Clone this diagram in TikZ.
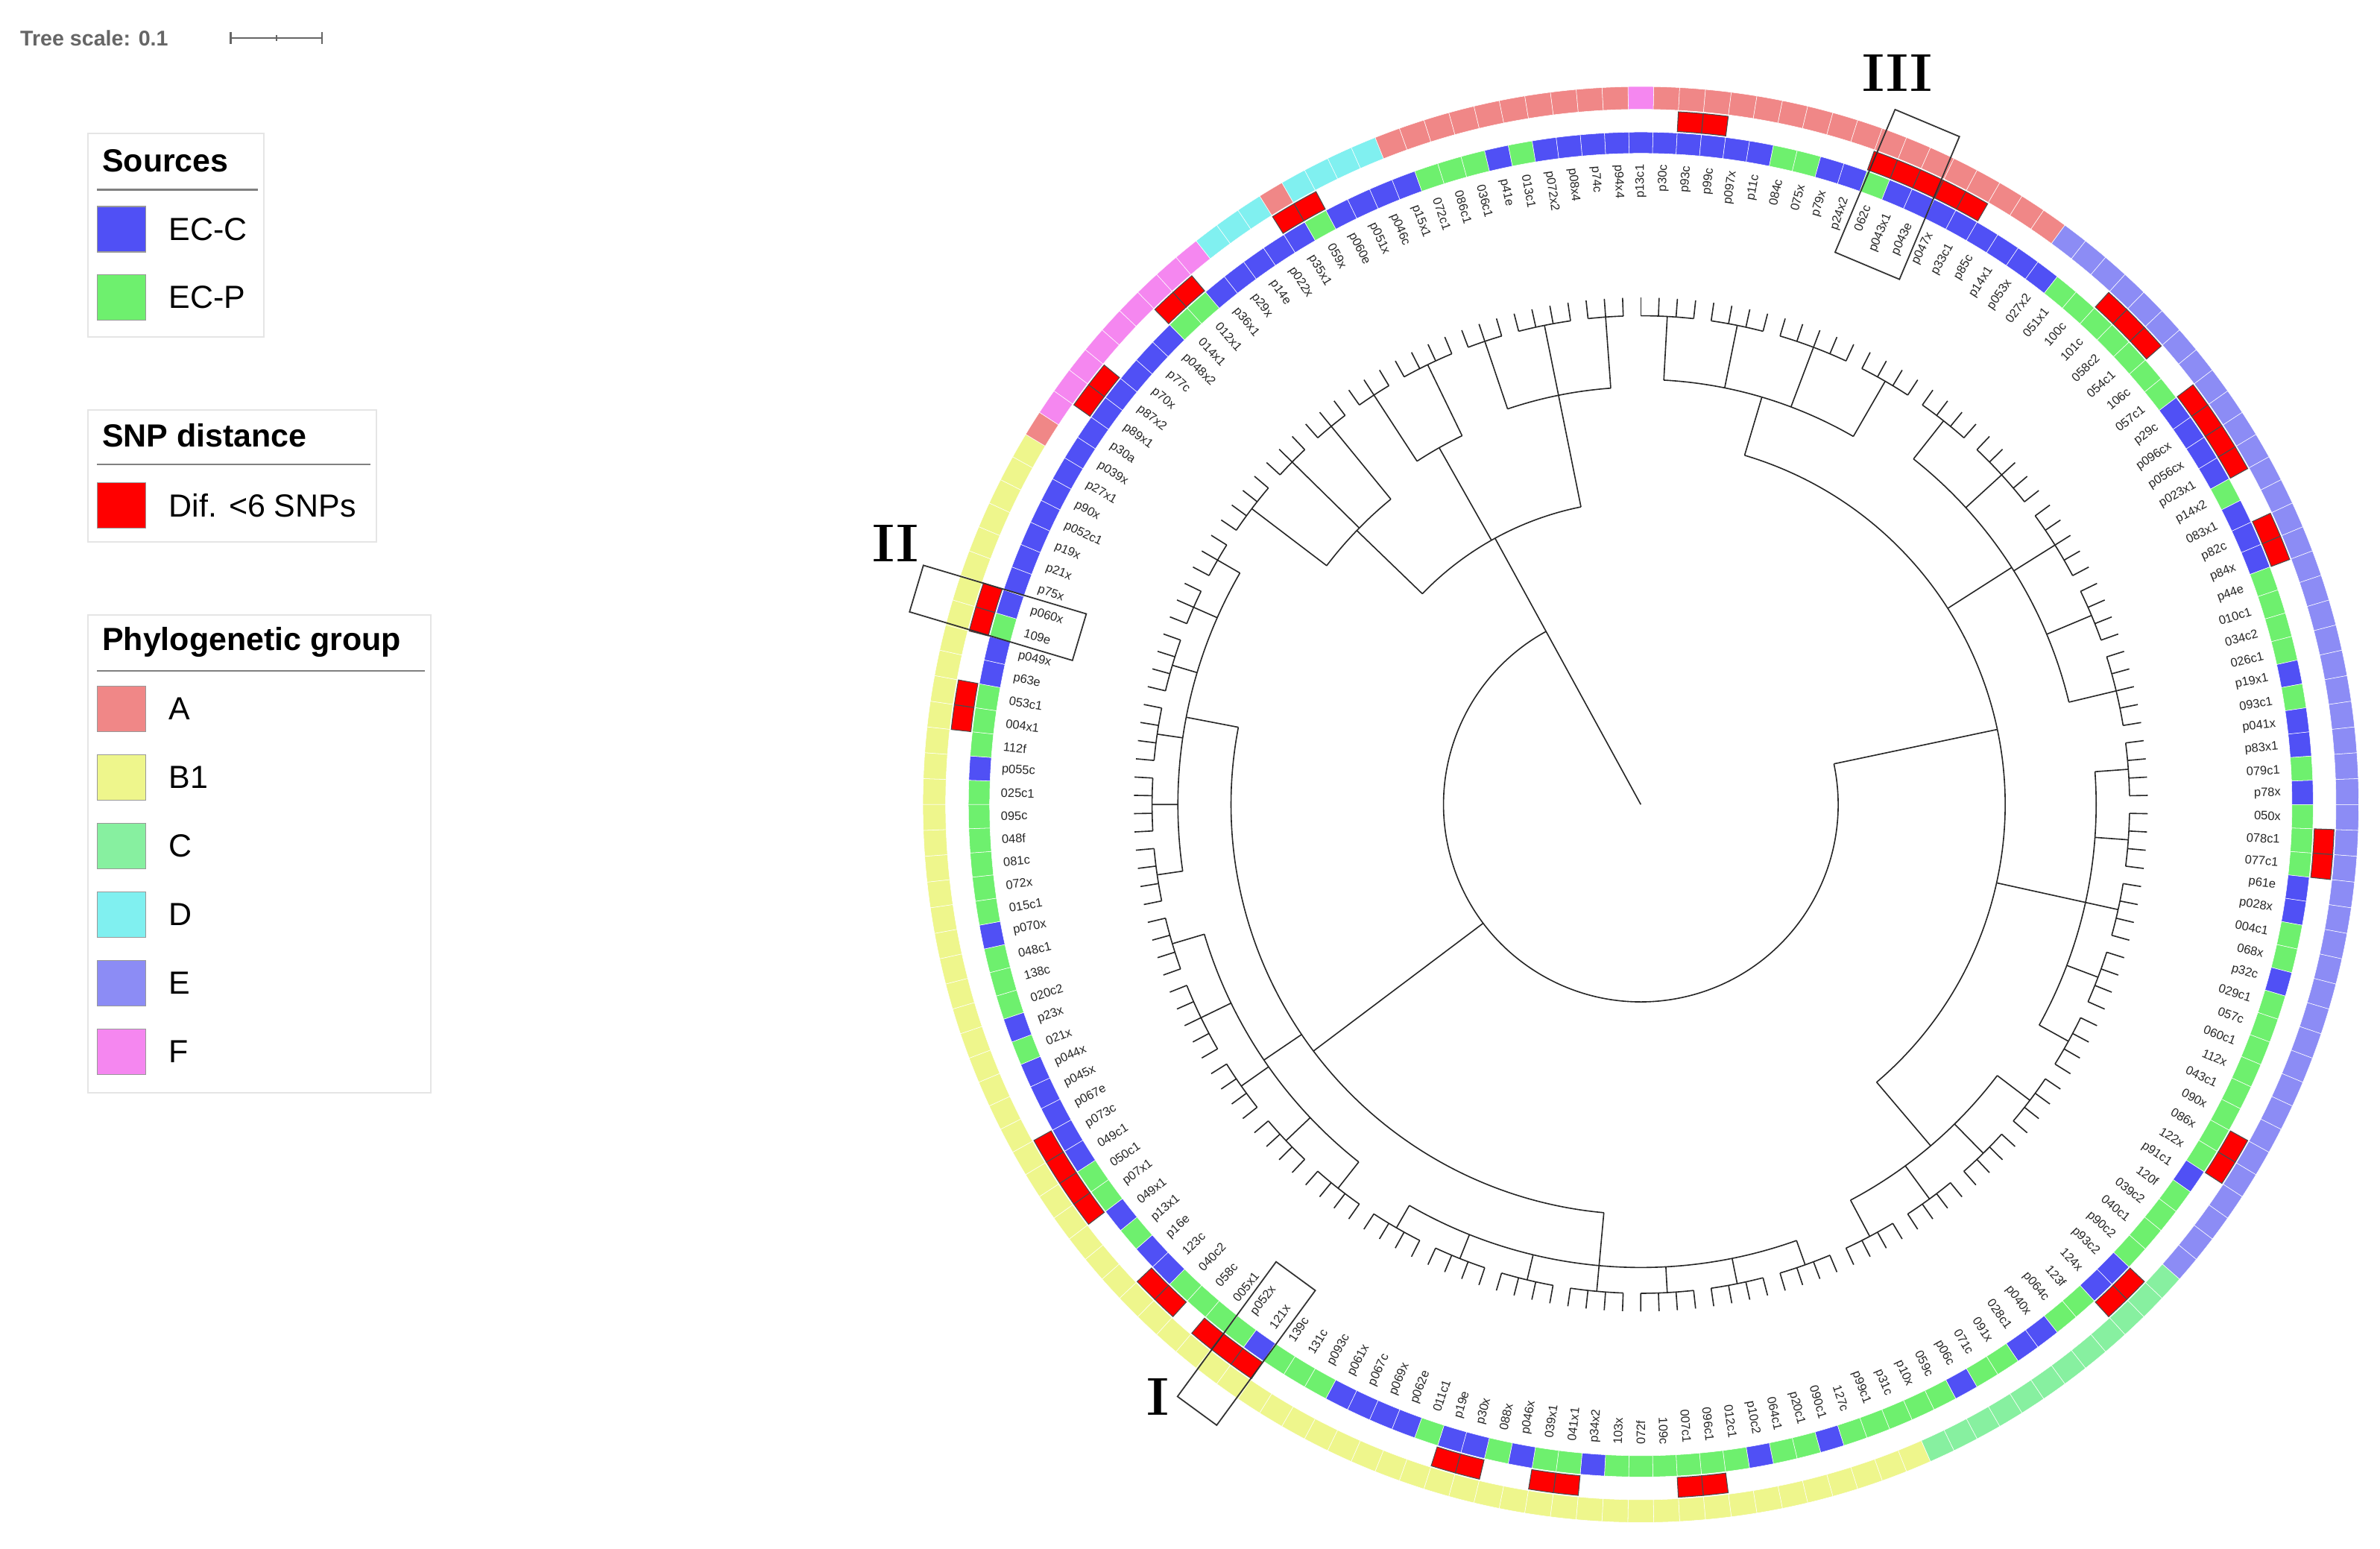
\documentclass[tikz,border=0pt]{standalone}
\usepackage{fontspec}
\setsansfont{Liberation Sans}
\usetikzlibrary{calc}
\definecolor{cA}{RGB}{240,135,135}
\definecolor{cB}{RGB}{238,246,140}
\definecolor{cC}{RGB}{135,240,160}
\definecolor{cD}{RGB}{128,240,240}
\definecolor{cE}{RGB}{140,140,245}
\definecolor{cF}{RGB}{245,135,240}
\definecolor{ecc}{RGB}{80,80,245}
\definecolor{ecp}{RGB}{110,240,110}
\definecolor{snpred}{RGB}{255,0,0}
\newcommand\ringseg[5]{\fill[#5,draw=white,line width=0.15pt] (#1:#3) arc[start angle=#1,end angle=#2,radius=#3] -- (#2:#4) arc[start angle=#2,end angle=#1,radius=#4] -- cycle;}
\newcommand\clade[4]{%
  \pgfmathsetmacro\ca{90-(#1-1)*2.069}%
  \pgfmathsetmacro\cb{90-(#2-1)*2.069}%
  \pgfmathsetmacro\cm{90-((#1+#2)/2-1)*2.069}%
  \draw[treeline] (\ca:#3) arc[start angle=\ca,end angle=\cb,radius=#3];
  \draw[treeline] (\cm:#4) -- (\cm:#3);}
\newcommand\hlbox[4]{% angle, r1, r2, halfwidth
  \draw[hl] ($(#1:#2)+(#1+90:#4)$) -- ($(#1:#3)+(#1+90:#4)$) -- ($(#1:#3)+(#1-90:#4)$) -- ($(#1:#2)+(#1-90:#4)$) -- cycle;}
\tikzset{
  treeline/.style={line width=0.45pt,black!85},
  lab/.style={font=\sffamily\fontsize{4.6}{5}\selectfont,inner sep=0pt,text=black!85},
  legbox/.style={draw=black!10,line width=0.6pt},
  legtitle/.style={font=\sffamily\bfseries\fontsize{12}{14}\selectfont,anchor=west,inner sep=0pt},
  legtext/.style={font=\sffamily\fontsize{12}{14}\selectfont,anchor=west,inner sep=0pt},
  sq/.style={draw=black!40,line width=0.4pt},
  roman/.style={font=\rmfamily\bfseries\fontsize{20}{22}\selectfont,inner sep=0pt},
  hl/.style={draw=black!80,line width=0.5pt}
}
\begin{document}
\begin{tikzpicture}[x=0.02cm,y=-0.02cm]
\useasboundingbox (0,0) rectangle (1568,1020.4);
% tree scale
\node[font=\sffamily\bfseries\fontsize{8}{9}\selectfont,text=black!60,anchor=west,inner sep=0pt] (ts) at (13,25) {Tree scale: 0.1};
\coordinate (sb1) at (152,25); \coordinate (sb2) at (212,25);
\draw[black!60,line width=0.6pt] (sb1) -- (sb2) (152,21) -- (152,29) (212,21) -- (212,29) (182,23) -- (182,27);
% legend: sources
\draw[legbox] (58,88) rectangle (174,222);
\node[legtitle] (t1) at (67,106) {Sources};
\draw[black!50,line width=0.6pt] (64,125) -- (170,125);
\draw[sq,fill=ecc] (64,136) rectangle (96,166); \node[legtext] (s1) at (111,151) {EC-C};
\draw[sq,fill=ecp] (64,181) rectangle (96,211); \node[legtext] (s2) at (111,196) {EC-P};
% snp
\draw[legbox] (58,270) rectangle (248,357);
\node[legtitle] (t2) at (67,287) {SNP distance};
\draw[black!50,line width=0.6pt] (64,306) -- (244,306);
\draw[sq,fill=snpred] (64,318) rectangle (96,348); \node[legtext] (s3) at (111,333) {Dif. <6 SNPs};
% phylo group
\draw[legbox] (58,405) rectangle (284,720);
\node[legtitle] (t3) at (67,423) {Phylogenetic group};
\draw[black!50,line width=0.6pt] (64,442) -- (280,442);
\foreach \c/\t [count=\i] in {cA/A,cB/B1,cC/C,cD/D,cE/E,cF/F}{
  \pgfmathsetmacro\yy{467+(\i-1)*45.2}
  \draw[sq,fill=\c] (64,\yy-15) rectangle (96,\yy+15);
  \node[legtext] (g\i) at (111,\yy) {\t};
}
% wheel
\begin{scope}[shift={(1081,530)},yscale=-1]
  \foreach \lab/\src/\sn [count=\j] in {
p13c1/ecc/0,p30c/ecc/0,p93c/ecc/1,p99c/ecc/1,p097x/ecc/0,p11c/ecc/0,084c/ecp/0,075x/ecp/0,p79x/ecc/0,p24x2/ecc/0,
062c/ecp/1,p043x1/ecc/1,p043e/ecc/1,p047x/ecc/1,p33c1/ecc/1,p85c/ecc/0,p14x1/ecc/0,p053x/ecc/0,027x2/ecc/0,051x1/ecp/0,
100c/ecp/0,101c/ecp/1,058c2/ecp/1,054c1/ecp/1,106c/ecp/0,057c1/ecp/0,p29c/ecc/1,p096cx/ecc/1,p056cx/ecc/1,p023x1/ecc/1,
p14x2/ecp/0,083x1/ecc/0,p82c/ecc/1,p84x/ecc/1,p44e/ecp/0,010c1/ecp/0,034c2/ecp/0,026c1/ecp/0,p19x1/ecc/0,093c1/ecp/0,
p041x/ecc/0,p83x1/ecc/0,079c1/ecp/0,p78x/ecc/0,050x/ecp/0,078c1/ecp/1,077c1/ecp/1,p61e/ecc/0,p028x/ecc/0,004c1/ecp/0,
068x/ecp/0,p32c/ecc/0,029c1/ecp/0,057c/ecp/0,060c1/ecp/0,112x/ecp/0,043c1/ecp/0,090x/ecp/0,086x/ecp/1,122x/ecp/1,
p91c1/ecc/0,120f/ecp/0,039c2/ecp/0,040c1/ecp/0,p90c2/ecp/0,p93c2/ecc/1,124x/ecc/1,123f/ecp/0,p064c/ecp/0,p040x/ecc/0,
028c1/ecc/0,091x/ecp/0,071c/ecp/0,p06c/ecc/0,059c/ecp/0,p10x/ecp/0,p31c/ecp/0,p99c1/ecp/0,127c/ecp/0,090c1/ecc/0,
p20c1/ecp/0,064c1/ecp/0,p10c2/ecc/0,012c1/ecp/0,096c1/ecp/1,007c1/ecp/1,109c/ecp/0,072f/ecp/0,103x/ecp/0,p34x2/ecc/0,
041x1/ecp/1,039x1/ecp/1,p046x/ecc/0,088x/ecp/0,p30x/ecc/1,p19e/ecc/1,011c1/ecp/0,p062e/ecc/0,p069x/ecc/0,p067c/ecc/0,
p061x/ecc/0,p093c/ecp/0,131c/ecp/0,139c/ecp/0,121x/ecc/1,p052x/ecp/1,005x1/ecp/1,058c/ecp/0,040c2/ecp/1,123c/ecc/1,
p16e/ecc/0,p13x1/ecp/0,049x1/ecc/0,p07x1/ecp/1,050c1/ecp/1,049c1/ecc/1,p073c/ecc/1,p067e/ecc/0,p045x/ecc/0,p044x/ecc/0,
021x/ecp/0,p23x/ecc/0,020c2/ecp/0,138c/ecp/0,048c1/ecp/0,p070x/ecc/0,015c1/ecp/0,072x/ecp/0,081c/ecp/0,048f/ecp/0,
095c/ecp/0,025c1/ecp/0,p055c/ecc/0,112f/ecp/0,004x1/ecp/1,053c1/ecp/1,p63e/ecc/0,p049x/ecc/0,109e/ecp/1,p060x/ecc/1,
p75x/ecc/0,p21x/ecc/0,p19x/ecc/0,p052c1/ecc/0,p90x/ecc/0,p27x1/ecc/0,p039x/ecc/0,p30a/ecc/0,p89x1/ecc/1,p87x2/ecc/1,
p70x/ecc/0,p77c/ecc/0,p048x2/ecc/0,014x1/ecp/1,012x1/ecp/1,p36x1/ecc/0,p29x/ecc/0,p14e/ecc/0,p022x/ecc/0,p35x1/ecc/1,
059x/ecp/1,p060e/ecc/0,p051x/ecc/0,p046c/ecc/0,p15x1/ecc/0,072c1/ecp/0,086c1/ecp/0,036c1/ecp/0,p41e/ecc/0,013c1/ecp/0,
p072x2/ecc/0,p08x4/ecc/0,p74c/ecc/0,p94x4/ecc/0}{
    \pgfmathsetmacro\t{90-(\j-1)*2.069}
    \pgfmathsetmacro\ta{\t+1.0345}
    \pgfmathsetmacro\tb{\t-1.0345}
    \ringseg{\ta}{\tb}{429}{443}{\src}
    \ifnum\sn=1 \fill[snpred,draw=black!70,line width=0.3pt] (\ta:444) arc[start angle=\ta,end angle=\tb,radius=444] -- (\tb:457) arc[start angle=\tb,end angle=\ta,radius=457] -- cycle;\fi
    \ifdim \t pt > -90pt
      \node[lab,anchor=east,rotate=\t] (l\j) at (\t:422) {\lab};
    \else
      \node[lab,anchor=west,rotate=\t+180] (l\j) at (\t:422) {\lab};
    \fi
  }
  % phylogroup ring
  \foreach \lo/\hi/\c in {1/1/cF,2/18/cA,19/64/cE,65/76/cC,77/146/cB,147/147/cA,148/156/cF,157/159/cD,160/160/cA,161/164/cD,165/174/cA}{
    \foreach \k in {\lo,...,\hi}{
      \pgfmathsetmacro\ta{90-(\k-1)*2.069+1.0345}
      \pgfmathsetmacro\tb{90-(\k-1)*2.069-1.0345}
      \ringseg{\ta}{\tb}{458}{473}{\c}
    }
  }
  % tree: leaf level clades
  \foreach \lo/\hi/\rp in {1/4/280,5/8/280,9/13/280,14/17/280,
    18/21/290,22/26/290,27/31/290,32/35/290,36/40/290,
    41/44/300,45/48/300,49/52/300,53/56/300,57/60/300,
    61/64/295,65/68/295,69/72/295,73/76/295,
    77/80/305,81/84/305,85/88/305,89/92/305,93/96/305,97/100/305,101/104/305,
    105/108/300,109/112/300,113/116/300,117/121/300,122/125/300,
    126/129/305,130/133/305,134/137/305,138/141/305,142/144/305,145/147/305,
    148/151/260,152/154/260,155/157/260,158/160/270,161/164/270,
    165/167/275,168/171/275,172/174/275}{
    \clade{\lo}{\hi}{322}{\rp}
    \foreach \k in {\lo,...,\hi}{
      \pgfmathsetmacro\tk{90-(\k-1)*2.069}
      \draw[treeline] (\tk:322) -- (\tk:334);
    }
  }
  \foreach \a/\b/\r/\rp in {2.5/15.5/280/240,19.5/38/290/240,42.5/58.5/300/240,62.5/74.5/295/240,
    78.5/102.5/305/270,106.5/123.5/300/270,127.5/146/305/270,
    149.5/156/260/200,159/162.5/270/200,166/173/275/200}{
    \clade{\a}{\b}{\r}{\rp}
  }
  \clade{9}{68.5}{240}{130}
  \clade{90.5}{136.75}{270}{130}
  \clade{152.75}{169.5}{200}{130}
  \pgfmathsetmacro\ra{90-(38.75-1)*2.069}
  \pgfmathsetmacro\rb{90-(161.125-1)*2.069}
  \coordinate (root) at (0,0);
  \coordinate (rootend) at (\rb:130);
  \draw[treeline] (\ra:130) arc[start angle=\ra,end angle=\rb,radius=130];
  \draw[treeline] (root) -- (rootend);
  % highlight boxes
  \hlbox{67.2}{385}{487}{23}
  \hlbox{163.4}{386}{498}{16}
  \hlbox{-126.2}{385}{495}{16}
\end{scope}
\node[roman] (bI) at (763,920) {I};
\node[roman] (bII) at (590,358) {II};
\node[roman] (bIII) at (1250,48) {III};
\end{tikzpicture}
\end{document}
